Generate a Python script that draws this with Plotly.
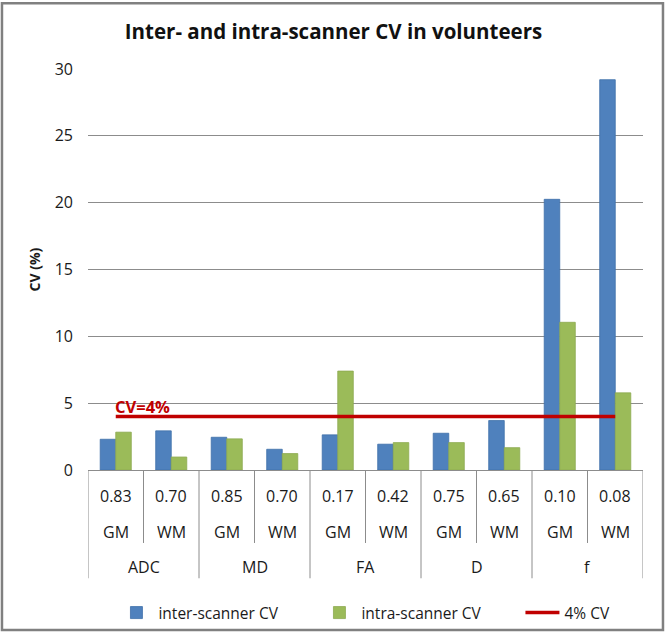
import plotly.graph_objects as go

# ---- data ----
metrics = ["ADC", "MD", "FA", "D", "f"]
tissues = ["GM", "WM", "GM", "WM", "GM", "WM", "GM", "WM", "GM", "WM"]
icc_labels = ["0.83", "0.70", "0.85", "0.70", "0.17", "0.42", "0.75", "0.65", "0.10", "0.08"]
inter_cv = [2.30, 2.93, 2.45, 1.55, 2.63, 1.93, 2.75, 3.70, 20.25, 29.20]
intra_cv = [2.83, 0.97, 2.33, 1.23, 7.40, 2.05, 2.05, 1.67, 11.05, 5.77]
threshold = 4.0
y_ticks = [0, 5, 10, 15, 20, 25, 30]

FONT = "Open Sans"
BLUE = "#4F81BD"
GREEN = "#9BBB59"
RED = "#C00000"
GRID = "#8C8C8C"
TXT = "#1a1a1a"

n = len(tissues)
pos = list(range(n))

fig = go.Figure()
fig.add_trace(go.Bar(x=pos, y=inter_cv, name="inter-scanner CV",
                     marker=dict(color=BLUE, line=dict(color="#3F70A9", width=0.8))))
fig.add_trace(go.Bar(x=pos, y=intra_cv, name="intra-scanner CV",
                     marker=dict(color=GREEN, line=dict(color="#8DAA50", width=0.8))))
fig.add_trace(go.Scatter(x=pos, y=[threshold] * n, mode="lines", name="4% CV",
                         line=dict(color=RED, width=3.5)))

# label for the threshold line
fig.add_annotation(x=pos[0], y=threshold, xref="x", yref="y", text="<b>CV=4%</b>",
                   showarrow=False, xanchor="left", yanchor="bottom", xshift=-3, yshift=-3,
                   font=dict(family=FONT, size=16.5, color=RED))

# ---- category table below the axis ----
shapes = []
for i in range(n + 1):
    xb = i - 0.5
    outer = (i % 2 == 0)
    shapes.append(dict(type="line", xref="x", yref="paper", x0=xb, x1=xb, y0=0,
                       y1=-0.270 if outer else -0.182,
                       line=dict(color=GRID, width=1)))
# outer frame
shapes.append(dict(type="rect", xref="paper", yref="paper", x0=-0.155, x1=1.036,
                   y0=-0.399, y1=1.164, line=dict(color="#808080", width=2.5),
                   fillcolor="rgba(0,0,0,0)", layer="below"))
fig.update_layout(shapes=shapes)

for i in range(n):
    fig.add_annotation(x=pos[i], y=-0.066, xref="x", yref="paper", text=icc_labels[i],
                       showarrow=False, yanchor="middle",
                       font=dict(family=FONT, size=16, color=TXT))
    fig.add_annotation(x=pos[i], y=-0.155, xref="x", yref="paper", text=tissues[i],
                       showarrow=False, yanchor="middle",
                       font=dict(family=FONT, size=16, color=TXT))
for j, m in enumerate(metrics):
    fig.add_annotation(x=(pos[2 * j] + pos[2 * j + 1]) / 2, y=-0.242, xref="x", yref="paper",
                       text=m, showarrow=False, yanchor="middle",
                       font=dict(family=FONT, size=16, color=TXT))

fig.update_layout(
    width=667, height=634,
    margin=dict(l=88, r=24, t=69, b=164, autoexpand=False),
    paper_bgcolor="white", plot_bgcolor="white",
    font=dict(family=FONT, size=15, color=TXT),
    title=dict(text="<b>Inter- and intra-scanner CV in volunteers</b>",
               x=0.5, xref="container", xanchor="center",
               y=1 - 32 / 634, yref="container", yanchor="middle",
               font=dict(family=FONT, size=20.5, color="#111111")),
    barmode="group", bargap=0.44, bargroupgap=0,
    showlegend=True,
    legend=dict(orientation="h", x=-0.001, xref="paper", xanchor="left",
                y=-0.3566, yref="paper", yanchor="middle",
                font=dict(family=FONT, size=15.5, color=TXT),
                itemwidth=34, entrywidth=127, indentation=27, traceorder="normal",
                bgcolor="rgba(0,0,0,0)"),
    xaxis=dict(range=[-0.5, n - 0.5], showticklabels=False, showgrid=False,
               zeroline=False, showline=True, linecolor=GRID, linewidth=1,
               ticks="", fixedrange=True, automargin=False),
    yaxis=dict(range=[0, 30], tickvals=y_ticks, showgrid=True, gridcolor=GRID,
               gridwidth=1, zeroline=False, showline=False, ticks="",
               ticklabelstandoff=14, automargin=False, fixedrange=True,
               tickfont=dict(family=FONT, size=16, color=TXT),
               title=dict(text="<b>CV (%)</b>", standoff=10,
                          font=dict(family=FONT, size=14, color=TXT))),
)

fig.write_html("out.html", config={"displayModeBar": False},
               post_script="document.body.style.margin='0';document.body.style.overflow='hidden';")
